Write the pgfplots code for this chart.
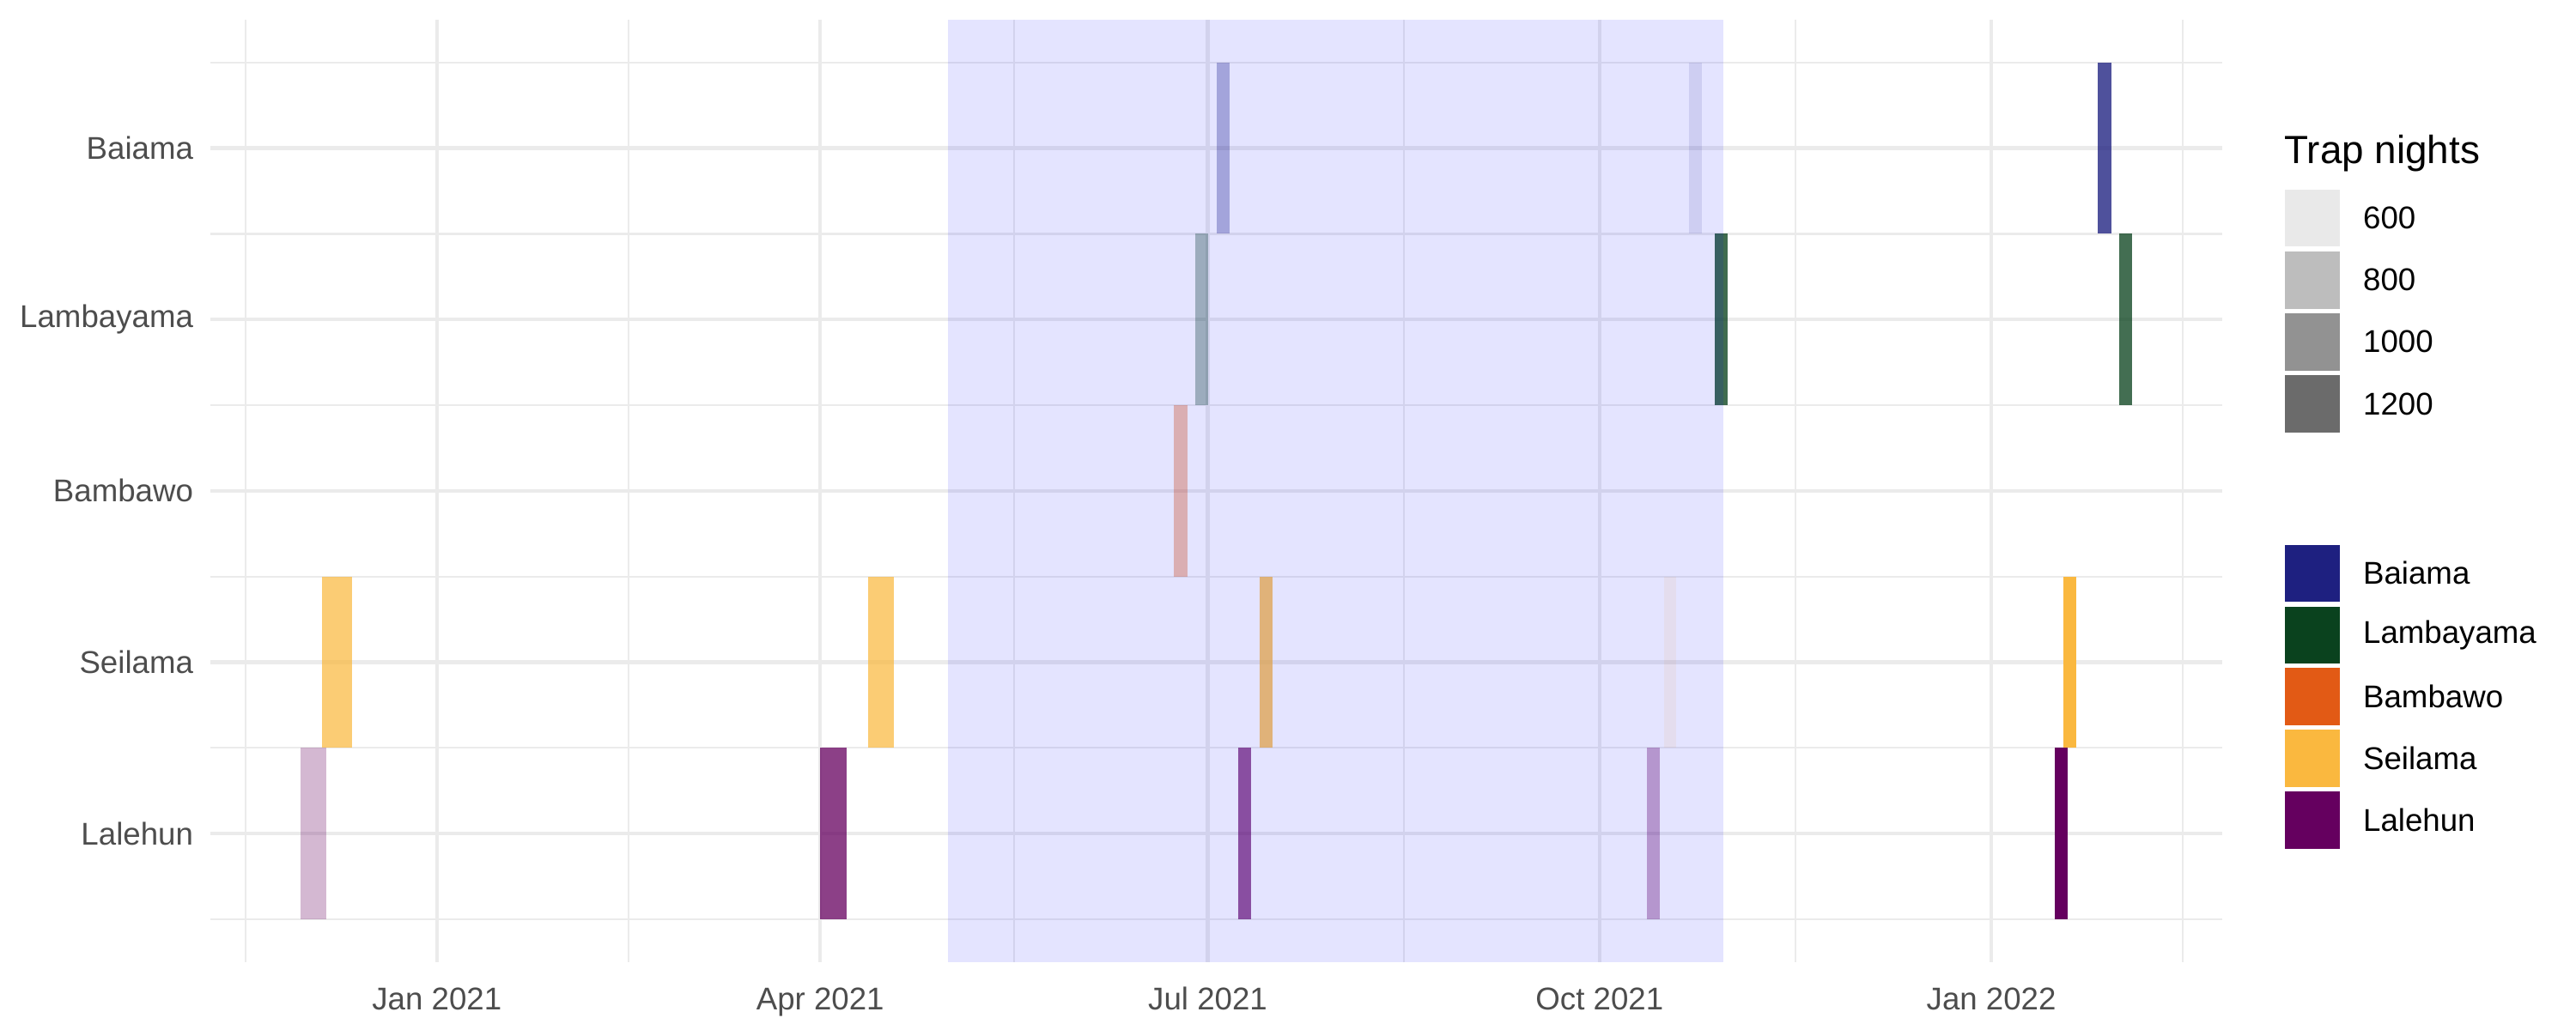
\documentclass[border=0pt]{standalone}
\usepackage{pgfplots}
\pgfplotsset{compat=1.18}
\usepackage{fontspec}
\setmainfont{Liberation Sans}
\definecolor{baiama}{HTML}{1E2080}
\definecolor{lambayama}{HTML}{0A421E}
\definecolor{bambawo}{HTML}{E25A15}
\definecolor{seilama}{HTML}{FAB83F}
\definecolor{lalehun}{HTML}{65005F}
\definecolor{gridc}{HTML}{EBEBEB}
\definecolor{ticktext}{HTML}{4D4D4D}
\definecolor{tnA}{HTML}{E9E9E9}
\definecolor{tnB}{HTML}{BDBDBD}
\definecolor{tnC}{HTML}{929292}
\definecolor{tnD}{HTML}{6B6B6B}
% tile macro: x1, x2, row, colour, alpha
\newcommand{\tile}[5]{\addplot[draw=none, fill=#4, fill opacity=#5] coordinates {(#1,#3-0.5) (#2,#3-0.5) (#2,#3+0.5) (#1,#3+0.5)} -- cycle;}
\begin{document}
\begin{tikzpicture}
\path[use as bounding box] (0,0) rectangle (720pt,288pt);
\begin{axis}[
  at={(58.8pt,19pt)}, anchor=south west,
  scale only axis, width=562.3pt, height=263.5pt,
  xmin=-53.2, xmax=419.2, ymin=0.25, ymax=5.75,
  xtick={0,90,181,273,365},
  xticklabels={Jan 2021,Apr 2021,Jul 2021,Oct 2021,Jan 2022},
  minor xtick={-45,45,135.5,227,319,410},
  ytick={1,2,3,4,5},
  yticklabels={Lalehun,Seilama,Bambawo,Lambayama,Baiama},
  minor ytick={0.5,1.5,2.5,3.5,4.5,5.5},
  grid=both,
  major grid style={draw=gridc, line width=1.07pt},
  minor grid style={draw=gridc, line width=0.53pt},
  axis line style={draw=none},
  major tick length=0pt, minor tick length=0pt,
  tick label style={font=\fontsize{8.8}{10}\selectfont, text=ticktext, inner sep=0pt},
  xticklabel style={anchor=north, yshift=-6.9pt},
  yticklabel style={anchor=east, xshift=-4.6pt},
  clip=true,
]
% Lalehun (row 1)
\tile{-32}{-26}{1}{lalehun}{0.28}
\tile{90}{96.2}{1}{lalehun}{0.75}
\tile{188.1}{191.2}{1}{lalehun}{0.66}
\tile{284.1}{287.1}{1}{lalehun}{0.34}
\tile{379.9}{383}{1}{lalehun}{1.0}
% Seilama (row 2)
\tile{-27}{-19.9}{2}{seilama}{0.72}
\tile{101.2}{107.3}{2}{seilama}{0.72}
\tile{193.2}{196.2}{2}{seilama}{0.78}
\tile{288.2}{291}{2}{seilama}{0.10}
\tile{382}{384.9}{2}{seilama}{1.0}
% Bambawo (row 3)
\tile{173.1}{176.3}{3}{bambawo}{0.37}
% Lambayama (row 4)
\tile{178}{181}{4}{lambayama}{0.33}
\tile{300}{303}{4}{lambayama}{0.78}
\tile{395}{398.1}{4}{lambayama}{0.77}
% Baiama (row 5)
\tile{183.1}{186.1}{5}{baiama}{0.32}
\tile{294}{297}{5}{baiama}{0.11}
\tile{390}{393.1}{5}{baiama}{0.78}
% shaded period
\addplot[draw=none, fill=blue, fill opacity=0.105] coordinates {(120,0.25) (302.1,0.25) (302.1,5.75) (120,5.75)} -- cycle;
\end{axis}
% legends
\node[anchor=west, inner sep=0pt, font=\fontsize{11}{13}\selectfont] at (638.3pt,245.0pt) {Trap nights};
\foreach \c/\l/\y in {tnA/600/227.0, tnB/800/209.7, tnC/1000/192.4, tnD/1200/175.1,
  baiama/Baiama/127.7, lambayama/Lambayama/110.4, bambawo/Bambawo/93.2, seilama/Seilama/75.9, lalehun/Lalehun/58.6}{
  \fill[\c] (638.7pt,\y pt-8pt) rectangle (653.9pt,\y pt+8pt);
  \node[anchor=west, inner sep=0pt, font=\fontsize{8.8}{10}\selectfont] at (660.3pt,\y pt) {\l};
}
\end{tikzpicture}
\end{document}
